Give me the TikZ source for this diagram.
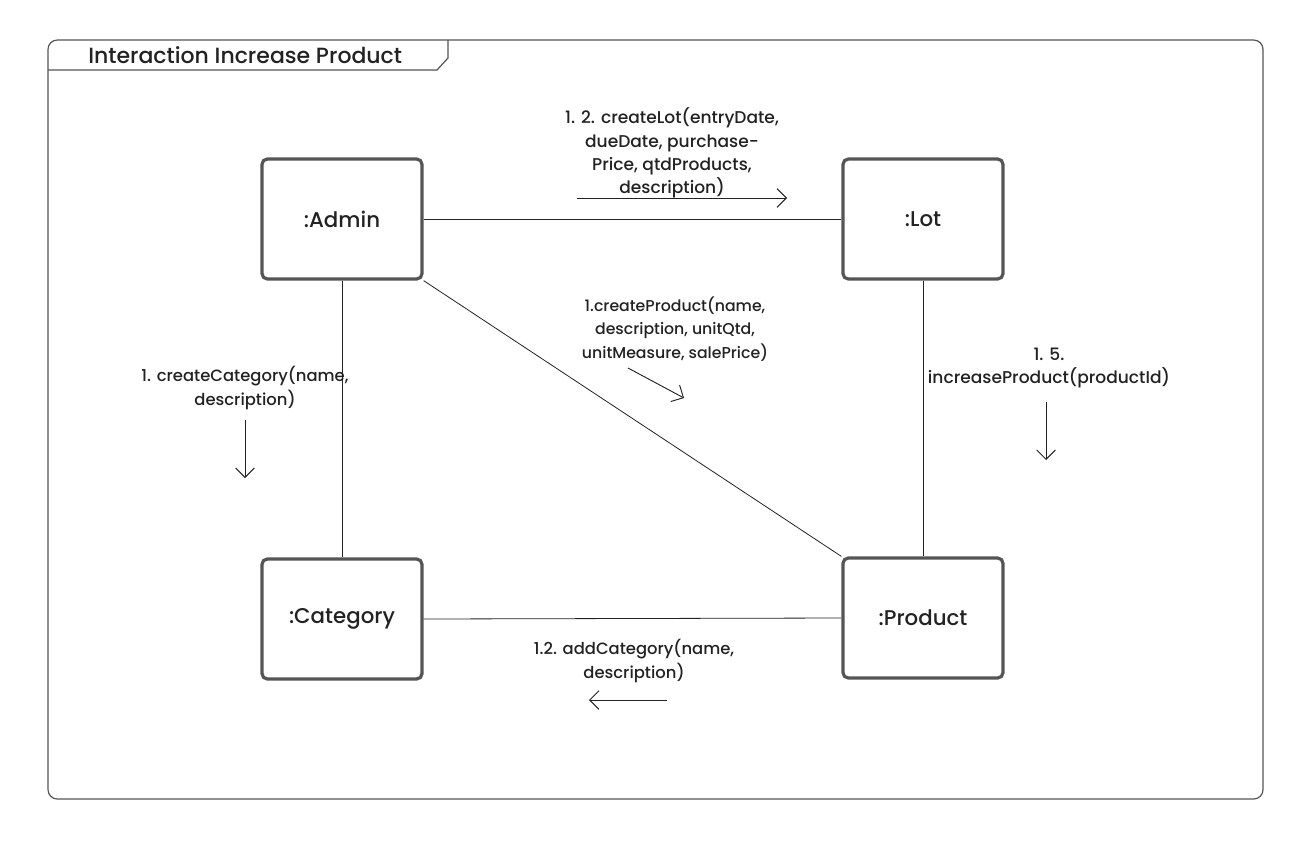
\documentclass[tikz,border=0pt]{standalone}
\usepackage{fontspec}
\setmainfont{Poppins Medium}
\usetikzlibrary{arrows.meta}
\definecolor{boxgray}{HTML}{555555}
\definecolor{ink}{HTML}{222222}
\tikzset{
  obj/.style={draw=boxgray, line width=2.4pt, rounded corners=4pt, minimum width=120pt, minimum height=90pt, inner sep=0pt, font=\fontsize{16}{18}\selectfont, text=ink},
  link/.style={draw=ink, line width=0.6pt},
  msg/.style={align=center, font=\fontsize{11.8}{17.6}\selectfont, text=ink, inner sep=0pt},
  msgwide/.style={msg, font=\fontsize{12.8}{17.6}\selectfont},
  msgarrow/.style={draw=ink, line width=0.7pt, -{Straight Barb[length=7pt, width=14pt, line width=0.7pt]}},
}
\begin{document}
\begin{tikzpicture}[x=0.75pt, y=-0.75pt]
\useasboundingbox (0,0) rectangle (1303,840);
% frame
\draw[draw=boxgray, line width=0.9pt, rounded corners=7pt] (48,40) rectangle (1263,799);
\draw[draw=boxgray, line width=0.9pt] (448,40) -- (448,58) -- (437,70) -- (48,70);
\node[anchor=west, font=\fontsize{16.5}{19}\selectfont, text=ink, inner sep=0pt] (title) at (88,55) {Interaction Increase Product};
% objects
\node[obj] (admin) at (342,219) {:Admin};
\node[obj] (lot) at (923,219) {:Lot};
\node[obj] (cat) at (342,619) {:Category};
\node[obj] (prod) at (923,618) {:Product};
% links
\draw[link] (admin.east) -- (lot.west);
\draw[link] (admin.south) -- (cat.north);
\draw[link] (lot.south) -- (prod.north);
\draw[link] (admin.south east) -- (prod.north west);
\draw[link] (cat.east) -- (prod.west);
% messages
\node[msgwide] (m1) at (672,153) {1. 2. createLot(entryDate,\\dueDate, purchase-\\Price, qtdProducts,\\description)};
\coordinate (a1s) at (577,198); \coordinate (a1e) at (787,198);
\draw[msgarrow] (a1s) -- (a1e);
\node[msg] (m2) at (675,329) {1.createProduct(name,\\description, unitQtd,\\unitMeasure, salePrice)};
\coordinate (a2s) at (628,368); \coordinate (a2e) at (684,398);
\draw[msgarrow] (a2s) -- (a2e);
\node[msg, font=\fontsize{12.3}{17.6}\selectfont] (m3) at (245,388) {1. createCategory(name,\\description)};
\coordinate (a3s) at (245,420); \coordinate (a3e) at (245,478);
\draw[msgarrow] (a3s) -- (a3e);
\node[msgwide] (m4) at (1049,368) {1. 5.\\increaseProduct(productId)};
\coordinate (a4s) at (1046,402); \coordinate (a4e) at (1046,460);
\draw[msgarrow] (a4s) -- (a4e);
\node[msg, font=\fontsize{12.3}{17.6}\selectfont] (m5) at (634,661) {1.2. addCategory(name,\\description)};
\coordinate (a5s) at (667,700); \coordinate (a5e) at (589,700);
\draw[msgarrow] (a5s) -- (a5e);
\end{tikzpicture}
\end{document}
